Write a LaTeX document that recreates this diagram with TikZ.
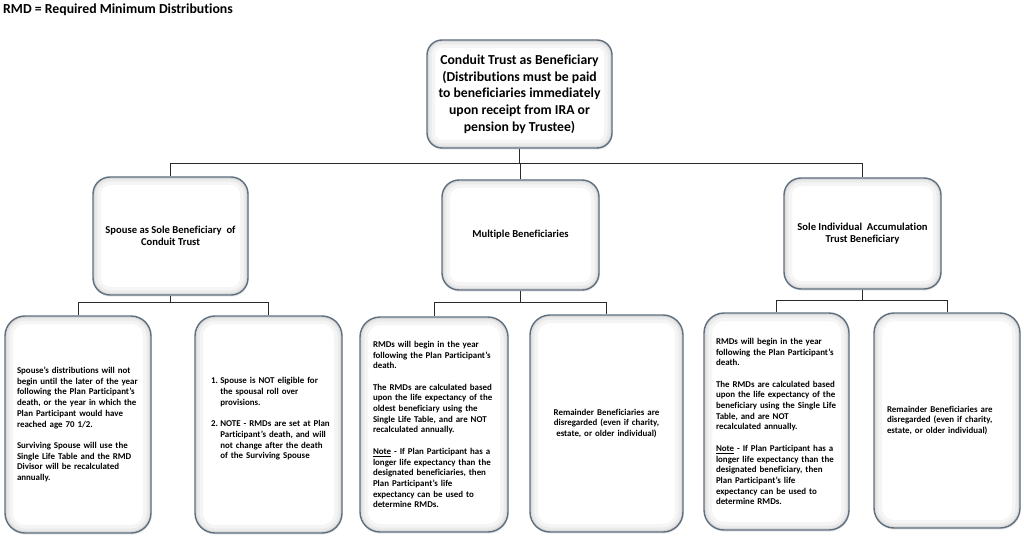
\documentclass[tikz,border=0pt]{standalone}
\usepackage{fontspec}
\setmainfont{Carlito}[Ligatures=NoCommon]
\usetikzlibrary{shadows}
\definecolor{boxedge}{HTML}{5E6E7E}
\definecolor{linec}{HTML}{2B2B2B}
\newcommand{\bshade}[1]{%
  \draw[black!4, line width=16pt, rounded corners=#1] (path picture bounding box.south west) rectangle (path picture bounding box.north east);
  \draw[black!8, line width=9pt, rounded corners=#1] (path picture bounding box.south west) rectangle (path picture bounding box.north east);
  \draw[black!14, line width=4pt, rounded corners=#1] (path picture bounding box.south west) rectangle (path picture bounding box.north east);}
\tikzset{
  rbox/.style={draw=boxedge, line width=1.4pt, fill=white, rounded corners=#1,
    font=\bfseries, inner sep=0pt,
    drop shadow={opacity=0.18, shadow xshift=0.6pt, shadow yshift=-1.6pt},
    path picture={\bshade{#1}}},
  rbox/.default=16pt,
  conn/.style={draw=linec, line width=0.8pt},
  small/.style={font=\bfseries\fontsize{8.9}{10.7}\selectfont},
  mid/.style={font=\bfseries\fontsize{10.6}{12.2}\selectfont},
}
\begin{document}
\begin{tikzpicture}[x=1pt,y=-1pt]
\useasboundingbox (0,0) rectangle (1024,553);

\node[anchor=west, inner sep=0pt, font=\bfseries\fontsize{13.8}{16}\selectfont] (title) at (3,10) {RMD = Required Minimum Distributions};

% top box
\node[rbox=15pt, minimum width=185pt, minimum height=108pt, align=center,
  font=\bfseries\fontsize{13.7}{16.7}\selectfont] (top) at (519.5,94)
  {Conduit Trust as Beneficiary\\(Distributions must be paid\\to beneficiaries immediately\\upon receipt from IRA or\\pension by Trustee)};

% middle boxes
\node[rbox=17pt, mid, minimum width=155pt, minimum height=118pt, align=center] (midL) at (170.5,236)
  {Spouse as Sole Beneficiary\ \ of\\Conduit Trust};
\node[rbox=17pt, mid, minimum width=157pt, minimum height=110pt, align=center] (midM) at (520.5,235)
  {Multiple Beneficiaries};
\node[rbox=17pt, mid, minimum width=157pt, minimum height=111pt, align=center] (midR) at (862.5,233.5)
  {Sole Individual\ \ Accumulation\\Trust Beneficiary};

% bottom boxes
\node[rbox=20pt, small, minimum width=146pt, minimum height=217pt, inner xsep=12pt, text width=122pt, align=left] (b1) at (78,424.5)
  {Spouse’s distributions will not\\
   begin until the later of the year\\
   following the Plan Participant’s\\
   death, or the year in which the\\
   Plan Participant would have\\
   reached age 70 1/2.\\[10.7pt]
   Surviving Spouse will use the\\
   Single Life Table and the RMD\\
   Divisor will be recalculated\\
   annually.};

\node[rbox=20pt, small, minimum width=147pt, minimum height=217pt, inner xsep=16pt, text width=115pt, align=left] (b2) at (268.5,424.5)
  {\begin{tabular}{@{}l@{\hspace{2.4pt}}l@{}}
   1. & Spouse is NOT eligible for\\
      & the spousal roll over\\
      & provisions.\\[10.7pt]
   2. & NOTE - RMDs are set at Plan\\
      & Participant’s death, and will\\
      & not change after the death\\
      & of the Surviving Spouse\\[10.7pt]
   \end{tabular}};

\node[rbox=20pt, small, minimum width=148pt, minimum height=215pt, inner xsep=13pt, text width=122pt, align=left] (b3) at (434,424.5)
  {RMDs will begin in the year\\
   following the Plan Participant’s\\
   death.\\[10.7pt]
   The RMDs are calculated based\\
   upon the life expectancy of the\\
   oldest beneficiary using the\\
   Single Life Table, and are NOT\\
   recalculated annually.\\[10.7pt]
   \underline{Note} - If Plan Participant has a\\
   longer life expectancy than the\\
   designated beneficiaries, then\\
   Plan Participant’s life\\
   expectancy can be used to\\
   determine RMDs.};

\node[rbox=20pt, small, minimum width=153pt, minimum height=217pt, inner xsep=8pt, text width=137pt, align=center] (b4) at (606.5,423.5)
  {Remainder Beneficiaries are\\
   disregarded (even if charity,\\
   estate, or older individual)};

\node[rbox=20pt, small, minimum width=145pt, minimum height=217pt, inner xsep=12pt, text width=121pt, align=left] (b5) at (776.5,421.5)
  {RMDs will begin in the year\\
   following the Plan Participant’s\\
   death.\\[10.7pt]
   The RMDs are calculated based\\
   upon the life expectancy of the\\
   beneficiary using the Single Life\\
   Table, and are NOT\\
   recalculated annually.\\[10.7pt]
   \underline{Note} - If Plan Participant has a\\
   longer life expectancy than the\\
   designated beneficiary, then\\
   Plan Participant’s life\\
   expectancy can be used to\\
   determine RMDs.};

\node[rbox=20pt, small, minimum width=146pt, minimum height=215pt, inner xsep=13pt, text width=120pt, align=left] (b6) at (947,420.5)
  {Remainder Beneficiaries are\\
   disregarded (even if charity,\\
   estate, or older individual)};

% connectors
\draw[conn] (top.south) -- ++(0,15) coordinate (jT) -| (midL.north);
\draw[conn] (jT) -| (midM.north);
\draw[conn] (jT) -| (midR.north);

\draw[conn] (midL.south) -- ++(0,7) coordinate (jL) -| (b1.north);
\draw[conn] (jL) -| (b2.north);
\draw[conn] (midM.south) -- ++(0,12) coordinate (jM) -| (b3.north);
\draw[conn] (jM) -| (b4.north);
\draw[conn] (midR.south) -- ++(0,11) coordinate (jR) -| (b5.north);
\draw[conn] (jR) -| (b6.north);
\end{tikzpicture}
\end{document}
